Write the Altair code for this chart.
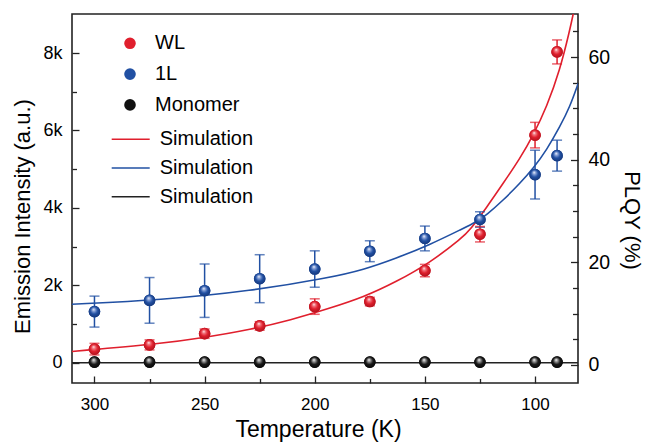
import altair as alt
import pandas as pd

# ---------------- data ----------------
temps = [300, 275, 250, 225, 200, 175, 150, 125, 100, 90]
wl = [350, 460, 750, 950, 1450, 1580, 2380, 3320, 5880, 8030]
wl_err = [150, 130, 120, 110, 200, 110, 160, 200, 330, 310]
l1 = [1320, 1610, 1860, 2170, 2420, 2880, 3210, 3700, 4860, 5350]
l1_err = [400, 590, 690, 620, 470, 270, 320, 200, 630, 400]
mono = [15, 15, 15, 15, 15, 15, 15, 15, 15, 15]

sim_wl_t = [310.2, 270, 250, 229, 211, 193, 178, 163, 148, 133, 129.5, 122, 114.4,
            106.8, 100.8, 94.7, 88.7, 84.2, 82.6]
sim_wl_v = [290, 490, 650, 860, 1100, 1410, 1690, 2090, 2570, 3230, 3430, 4010, 4640,
            5280, 5880, 6610, 7560, 8600, 9030]
sim_l1_t = [310.2, 270, 229, 193, 178, 163, 148, 132.6, 126.5, 122, 114.4, 106.8,
            100.8, 94.7, 88.7, 84.2, 80.4]
sim_l1_v = [1510, 1620, 1850, 2200, 2400, 2700, 3040, 3470, 3640, 3820, 4200, 4640,
            5020, 5500, 6100, 6610, 7220]
sim_mono_t = [310.2, 80.5]
sim_mono_v = [0, 0]

x_major = [300, 250, 200, 150, 100]
x_minor = [275, 225, 175, 125]
y_major = [0, 2000, 4000, 6000, 8000]
y_minor = [1000, 3000, 5000, 7000]
plqy_major = [0, 20, 40, 60]
plqy_minor = [5, 10, 15, 25, 30, 35, 45, 50, 55, 65]

series_names = ["WL", "1L", "Monomer"]
sim_names = ["WL sim", "1L sim", "Monomer sim"]

RED = "#E01F2D"
BLUE = "#2150A3"
BLACK = "#111111"
FONT = "Liberation Sans"

# ---------------- tables ----------------
rows = []
for s, vals, errs, col in [("WL", wl, wl_err, RED), ("1L", l1, l1_err, BLUE)]:
    for t, v, e in zip(temps, vals, errs):
        rows.append(dict(T=t, v=v, lo=v - e, hi=v + e, series=s, col=col))
err_df = pd.DataFrame(rows)

prow = []
for s, vals in [("WL", wl), ("1L", l1), ("Monomer", mono)]:
    for t, v in zip(temps, vals):
        prow.append(dict(T=t, v=v, series=s))
pts_df = pd.DataFrame(prow)

srow = []
for s, ts, vs in [("WL sim", sim_wl_t, sim_wl_v), ("1L sim", sim_l1_t, sim_l1_v),
                  ("Monomer sim", sim_mono_t, sim_mono_v)]:
    for t, v in zip(ts, vs):
        srow.append(dict(T=t, v=v, series=s))
sim_df = pd.DataFrame(srow)

# ---------------- scales & axes ----------------
x_scale = alt.Scale(domain=[80.5, 310.2], reverse=True, nice=False, zero=False)
y_scale = alt.Scale(domain=[-525, 9010], nice=False, zero=False)
r_scale = alt.Scale(domain=[-3.51, 68.4], nice=False, zero=False)

common = dict(grid=False, domain=False, labelFont=FONT, titleFont=FONT,
              labelColor="black", titleColor="black", tickColor="#222",
              tickWidth=1.3, titleFontWeight="normal")

x_axis = alt.Axis(values=x_major, title="Temperature (K)", orient="bottom", offset=-7,
                  tickSize=7, labelFontSize=17, titleFontSize=23, labelPadding=13,
                  titlePadding=6, titleX=246, format="d", **common)
x_axis_minor = alt.Axis(values=x_minor, title=None, orient="bottom", offset=-4.5,
                        tickSize=4.5, labels=False, **common)
y_axis = alt.Axis(values=y_major, title="Emission Intensity (a.u.)", orient="left",
                  offset=-7, tickSize=7, labelFontSize=18, titleFontSize=22,
                  labelPadding=10, titlePadding=8, titleY=202,
                  labelExpr="datum.value == 0 ? '0' : (datum.value / 1000) + 'k'", **common)
y_axis_minor = alt.Axis(values=y_minor, title=None, orient="left", offset=-4.5,
                        tickSize=4.5, labels=False, **common)
r_axis = alt.Axis(values=plqy_major, title="PLQY (%)", orient="right", offset=-7.5,
                  tickSize=7.5, labelFontSize=19.5, titleFontSize=22, labelPadding=10,
                  titlePadding=10, titleY=206, format="d", **common)
r_axis_minor = alt.Axis(values=plqy_minor, title=None, orient="right", offset=-5.5,
                        tickSize=5.5, labels=False, **common)


def X(field="T:Q"):
    return alt.X(field, scale=x_scale, axis=x_axis)


def Y(field="v:Q"):
    return alt.Y(field, scale=y_scale, axis=y_axis)


# ---------------- layers ----------------
lines = alt.Chart(sim_df).mark_line(interpolate="basis", strokeWidth=1.6, clip=True).encode(
    x=X(), y=Y(),
    stroke=alt.Stroke("series:N", scale=alt.Scale(domain=sim_names, range=[RED, BLUE, "#222222"]),
                      legend=alt.Legend(orient="none", legendX=48.2, legendY=114.8, title=None,
                                        labelExpr="'Simulation'", symbolType="M-2,0H2",
                                        symbolSize=361, symbolStrokeWidth=1.6,
                                        labelFontSize=20, labelFont=FONT, labelColor="black",
                                        labelOffset=18.5, rowPadding=7.7, padding=0)),
    order=alt.Order("T:Q"),
)

err_rule = alt.Chart(err_df).mark_rule(strokeWidth=1.5).encode(
    x=X(), y=Y("lo:Q"), y2="hi:Q", color=alt.Color("col:N", scale=None))
cap_lo = alt.Chart(err_df).mark_tick(orient="horizontal", size=10, thickness=1.5).encode(
    x=X(), y=Y("lo:Q"), color=alt.Color("col:N", scale=None))
cap_hi = alt.Chart(err_df).mark_tick(orient="horizontal", size=10, thickness=1.5).encode(
    x=X(), y=Y("hi:Q"), color=alt.Color("col:N", scale=None))

base_pts = alt.Chart(pts_df).mark_point(filled=True, size=135, opacity=1, strokeWidth=0).encode(
    x=X(), y=Y(),
    fill=alt.Fill("series:N", scale=alt.Scale(domain=series_names, range=[RED, BLUE, BLACK]),
                  legend=alt.Legend(orient="none", legendX=48, legendY=19.3, title=None,
                                    symbolType="circle", symbolSize=135, symbolStrokeWidth=0,
                                    labelFontSize=20, labelFont=FONT, labelColor="black",
                                    labelOffset=15, rowPadding=10.8, padding=0)),
)


def sphere(name, light, mid, dark):
    grad = alt.RadialGradient(
        gradient="radial",
        stops=[alt.GradientStop(offset=0, color="#ffffff"),
               alt.GradientStop(offset=0.2, color=light),
               alt.GradientStop(offset=0.5, color=mid),
               alt.GradientStop(offset=1, color=dark)],
        x1=0.42, y1=0.3, r1=0, x2=0.5, y2=0.5, r2=0.62)
    return alt.Chart(pts_df).transform_filter(alt.datum.series == name).mark_point(
        filled=True, size=135, fill=grad, strokeWidth=0, opacity=1).encode(x=X(), y=Y())


sph_wl = sphere("WL", "#F27C84", RED, "#9E0E18")
sph_l1 = sphere("1L", "#8EA6DA", BLUE, "#122E6A")
sph_mo = sphere("Monomer", "#9a9a9a", "#1a1a1a", "#000000")

inner = alt.layer(lines, err_rule, cap_lo, cap_hi, base_pts, sph_wl, sph_l1, sph_mo)

minor_lb = alt.Chart(pd.DataFrame({"T": x_minor, "v": y_minor})).mark_point(opacity=0).encode(
    x=alt.X("T:Q", scale=x_scale, axis=x_axis_minor),
    y=alt.Y("v:Q", scale=y_scale, axis=y_axis_minor))

right = alt.Chart(pd.DataFrame({"p": plqy_major})).mark_point(opacity=0).encode(
    y=alt.Y("p:Q", scale=r_scale, axis=r_axis))
right_minor = alt.Chart(pd.DataFrame({"p": plqy_minor})).mark_point(opacity=0).encode(
    y=alt.Y("p:Q", scale=r_scale, axis=r_axis_minor))

chart = alt.layer(inner, minor_lb, right, right_minor).resolve_scale(
    x="independent", y="independent"
).properties(
    width=506, height=369,
    autosize=alt.AutoSizeParams(type="none"),
    padding={"left": 72, "top": 14, "right": 68, "bottom": 60},
    background="white",
).configure_view(stroke="#222222", strokeWidth=1.6).configure_axis(grid=False)

chart.save("out.html", embed_options={"renderer": "svg", "actions": False})
